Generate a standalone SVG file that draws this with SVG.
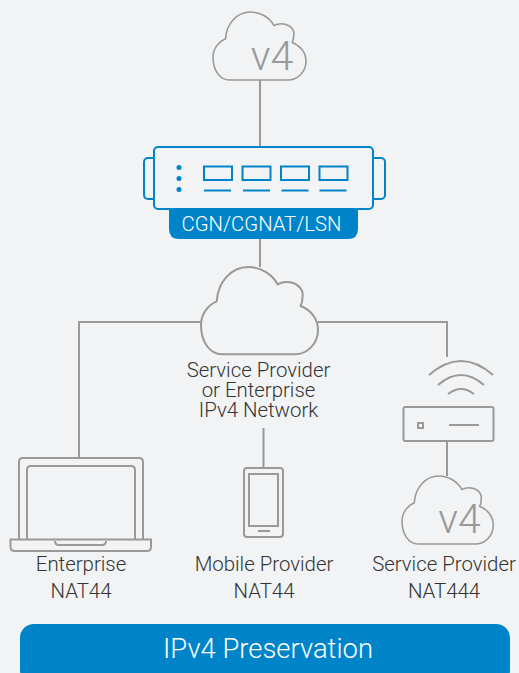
<svg xmlns="http://www.w3.org/2000/svg" width="519" height="673" viewBox="0 0 519 673">
<style>
.g{fill:none;stroke:#999;stroke-width:2}
.b{fill:none;stroke:#0084c9;stroke-width:2}
.c{fill:none;stroke:#999;stroke-width:2;vector-effect:non-scaling-stroke}
text{font-family:Roboto,"Liberation Sans",sans-serif;font-weight:300;text-anchor:middle}
.l{font-size:20.400px;fill:#333}
.w{fill:#fff}
.v{font-size:41px;fill:#999}
</style>
<defs>
<path id="cloud" d="M20.7 87.3C9 87.3 0 75 0 58C0 47 7 38 15.7 34.3C17 15 30 0 47.3 0C60 0 71 7 76.7 17.3C80 15.5 83 15 85.7 15C95 15 101.7 21 101.7 28C101.7 32 101 36 99.7 39C110 43 117 52 117 63C117 77 106 87.3 94 87.3Z"/>
</defs>
<rect width="519" height="673" fill="#f1f3f5"/>
<g id="connectors" class="g">
<path d="M260 80V147"/>
<path d="M260 239V267"/>
<path d="M201 322H79V457"/>
<path d="M318 322H447V357"/>
<path d="M263.500 428V467"/>
<path d="M447 441V476"/>
</g>
<g id="cloud-top">
<use href="#cloud" class="c" transform="translate(213 12) scale(.795 .78)"/>
<text class="v" x="272" y="70">v4</text>
</g>
<g id="cgn">
<path d="M169 209H358V229Q358 239 348 239H179Q169 239 169 229Z" fill="#0084c9"/>
<rect class="b" x="144" y="158" width="14" height="41" rx="4"/>
<rect class="b" x="369" y="158" width="16" height="41" rx="4"/>
<rect x="154" y="147" width="219" height="62" rx="4" fill="#f1f3f5" stroke="#0084c9" stroke-width="2"/>
<circle cx="179" cy="167.500" r="2.500" fill="#0084c9"/>
<circle cx="179" cy="178.500" r="2.500" fill="#0084c9"/>
<circle cx="179" cy="189.500" r="2.500" fill="#0084c9"/>
<path class="b" d="M204 166.500h28v13.500h-28zM242.500 166.500h28v13.500h-28zM281 166.500h28v13.500h-28zM319.500 166.500h28v13.500h-28zM204 190.500h27M243 190.500h27M281.500 190.500h27M319.500 190.500h27"/>
<text class="w" x="261.500" y="231" font-size="20.300">CGN/CGNAT/LSN</text>
</g>
<g id="cloud-center">
<use href="#cloud" class="c" transform="translate(201 267)"/>
<text class="l" x="258.500" y="377">Service Provider</text>
<text class="l" x="258.500" y="397">or Enterprise</text>
<text class="l" x="258.500" y="417">IPv4 Network</text>
</g>
<g id="laptop">
<path class="g" d="M19 539V462Q19 458 23 458H139Q143 458 143 462V539M27 539V470Q27 466 31 466H131Q135 466 135 470V539"/>
<path class="g" d="M10.500 539.500H151V547Q151 551 147 551H15Q10.500 551 10.500 547ZM55 541Q55 545 59 545H102Q106 545 106 541"/>
<text class="l" x="81" y="571">Enterprise</text>
<text class="l" x="81" y="598">NAT44</text>
</g>
<g id="phone">
<rect class="g" x="244" y="468" width="39" height="69" rx="3"/>
<rect class="g" x="249" y="474" width="29" height="52"/>
<path class="g" d="M258 531H270"/>
<text class="l" x="264" y="571">Mobile Provider</text>
<text class="l" x="264" y="598">NAT44</text>
</g>
<g id="router">
<path class="g" d="M429 375Q461 347 493 375M438 385Q461 365 484 385M448 394Q461 384 474 394"/>
<rect class="g" x="403.500" y="407" width="90" height="34" rx="2"/>
<rect class="g" x="418" y="423" width="5" height="5"/>
<path class="g" d="M449 425H479"/>
</g>
<g id="cloud-bottom">
<use href="#cloud" class="c" transform="translate(402 476) scale(.78 .78)"/>
<text class="v" x="459.500" y="533">v4</text>
<text class="l" x="444" y="571">Service Provider</text>
<text class="l" x="444" y="598">NAT444</text>
</g>
<g id="banner">
<rect x="20" y="624" width="490" height="60" rx="14" fill="#0084c9"/>
<text class="w" x="268" y="658" font-size="27.400">IPv4 Preservation</text>
</g>
</svg>
